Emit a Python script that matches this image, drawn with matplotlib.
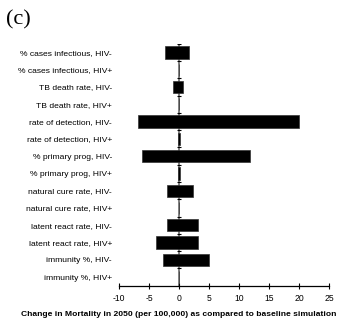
import matplotlib.pyplot as plt
import numpy as np

# parameter names, top to bottom
params = ['% cases infectious, HIV-', '% cases infectious, HIV+',
          'TB death rate, HIV-', 'TB death rate, HIV+',
          'rate of detection, HIV-', 'rate of detection, HIV+',
          '% primary prog, HIV-', '% primary prog, HIV+',
          'natural cure rate, HIV-', 'natural cure rate, HIV+',
          'latent react rate, HIV-', 'latent react rate, HIV+',
          'immunity %, HIV-', 'immunity %, HIV+']

# change in mortality at low / high parameter values
low = [-2.3, 0.0, -0.95, 0.0, -6.8, -0.15, -6.15, -0.15, -1.95, 0.0, -1.95, -3.9, -2.7, 0.0]
high = [1.7, 0.0, 0.7, 0.0, 20.0, 0.15, 11.8, 0.15, 2.4, 0.0, 3.2, 3.2, 5.0, 0.0]

xticks = [-10, -5, 0, 5, 10, 15, 20, 25]

low = np.array(low)
high = np.array(high)
n = len(params)
pos = np.arange(n)

fig = plt.figure(figsize=(3.43, 3.24), dpi=100)
ax = fig.add_axes([0.347, 0.118, 0.612, 0.747])

# vertical zero line with cross ticks between categories
ax.axvline(0, color='#808080', lw=1.4, zorder=1)
bounds = np.arange(n + 1) - 0.5
ax.plot(np.zeros(len(bounds) - 1), bounds[:-1], ls='none', marker='_',
        ms=3.5, mew=0.8, color='black', zorder=2)

ax.barh(pos, high - low, left=low, height=0.71, color='black',
        edgecolor='#333333', lw=0.5, zorder=3)

ax.set_xlim(-10, 25)
ax.set_ylim(n - 0.5, -0.5)
ax.set_xticks(xticks)
ax.set_xticklabels([str(t) for t in xticks], fontsize=6.2, family='Liberation Sans')
ax.set_yticks(pos)
ax.set_yticklabels(params, fontsize=6.1, family='Liberation Sans')
ax.tick_params(axis='y', length=0, pad=5)
ax.tick_params(axis='x', direction='inout', length=4, width=0.8, pad=4)

for s in ['left', 'right', 'top']:
    ax.spines[s].set_visible(False)
ax.spines['bottom'].set_linewidth(0.9)

fig.text(179 / 343, 1 - 314 / 324,
         'Change in Mortality in 2050 (per 100,000) as compared to baseline simulation',
         fontsize=6.1, fontweight='bold', family='Liberation Sans',
         ha='center', va='center')

fig.text(6 / 343, 1 - 20 / 324, '(c)', fontsize=16, family='Liberation Serif', va='center')

fig.savefig('out.png', dpi=100)
